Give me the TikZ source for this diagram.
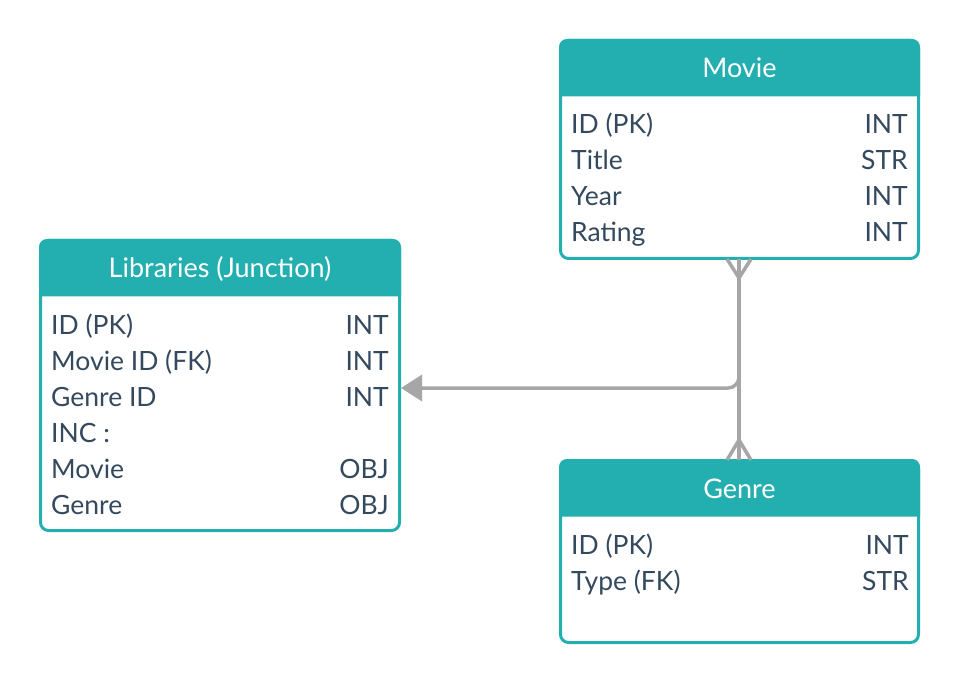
\documentclass[tikz,border=0pt]{standalone}
\usepackage{fontspec}
\setmainfont{Lato}
\usetikzlibrary{arrows.meta,calc}
\definecolor{tealc}{RGB}{35,175,175}
\definecolor{txt}{RGB}{52,73,94}
\definecolor{conn}{RGB}{166,166,166}
\tikzset{
  entity/.style={draw=tealc, line width=3pt, rounded corners=8pt, fill=white, inner sep=0pt},
  field/.style={font=\fontsize{26.5}{30}\selectfont, text=txt, inner sep=0pt, anchor=base west},
  ftype/.style={font=\fontsize{26.5}{30}\selectfont, text=txt, inner sep=0pt, anchor=base east},
  head/.style={font=\fontsize{27}{30}\selectfont, text=white, inner sep=0pt, anchor=base},
  conline/.style={draw=conn, line width=3.5pt},
}
\begin{document}
\begin{tikzpicture}[x=1pt,y=-1pt]
\useasboundingbox (0,0) rectangle (960,684);

% entities
\node[entity, minimum width=358pt, minimum height=218pt] (movie) at (739.5,149.5) {};
\node[entity, minimum width=359pt, minimum height=290pt] (lib) at (220,385.5) {};
\node[entity, minimum width=358pt, minimum height=182pt] (genre) at (739.5,551.5) {};

% headers
\foreach \e in {movie,lib,genre}{
  \fill[tealc] ($(\e.north west)+(0,57.5)$) [rounded corners=8pt] -- (\e.north west) -- (\e.north east) [sharp corners] -- ($(\e.north east)+(0,57.5)$) -- cycle;
}
\node[head] (movieh) at (739.5,78) {Movie};
\node[head] (libh) at (220,278) {Libraries (Junction)};
\node[head] (genreh) at (739.5,498) {Genre};

% Movie fields
\node[field] (m1) at (571,134) {ID (PK)};
\node[ftype] (m1t) at (908,134) {INT};
\node[field] (m2) at (571,170) {Title};
\node[ftype] (m2t) at (908,170) {STR};
\node[field] (m3) at (571,206) {Year};
\node[ftype] (m3t) at (908,206) {INT};
\node[field] (m4) at (571,242) {Rating};
\node[ftype] (m4t) at (908,242) {INT};

% Libraries fields
\node[field] (l1) at (51,334) {ID (PK)};
\node[ftype] (l1t) at (389,334) {INT};
\node[field] (l2) at (51,370) {Movie ID (FK)};
\node[ftype] (l2t) at (389,370) {INT};
\node[field] (l3) at (51,406) {Genre ID};
\node[ftype] (l3t) at (389,406) {INT};
\node[field] (l4) at (51,442) {INC :};
\node[field] (l5) at (51,478) {Movie};
\node[ftype] (l5t) at (389,478) {OBJ};
\node[field] (l6) at (51,514) {Genre};
\node[ftype] (l6t) at (389,514) {OBJ};

% Genre fields
\node[field] (g1) at (571,554) {ID (PK)};
\node[ftype] (g1t) at (909,554) {INT};
\node[field] (g2) at (571,590) {Type (FK)};
\node[ftype] (g2t) at (909,590) {STR};

% connectors
\coordinate (mtop) at (739,259);
\coordinate (mconv) at (739,278);
\coordinate (gbot) at (739,460);
\coordinate (gconv) at (739,440);
\coordinate (j) at (739,388);

\draw[conline] (mtop) -- (gbot);
\draw[conline] (mconv) -- (727,259);
\draw[conline] (mconv) -- (751,259);
\draw[conline] (gconv) -- (727,460);
\draw[conline] (gconv) -- (751,460);
\draw[conline, rounded corners=11pt, -{Triangle[length=21pt,width=26pt]}] (mtop) |- (lib.east |- j);
\end{tikzpicture}
\end{document}
